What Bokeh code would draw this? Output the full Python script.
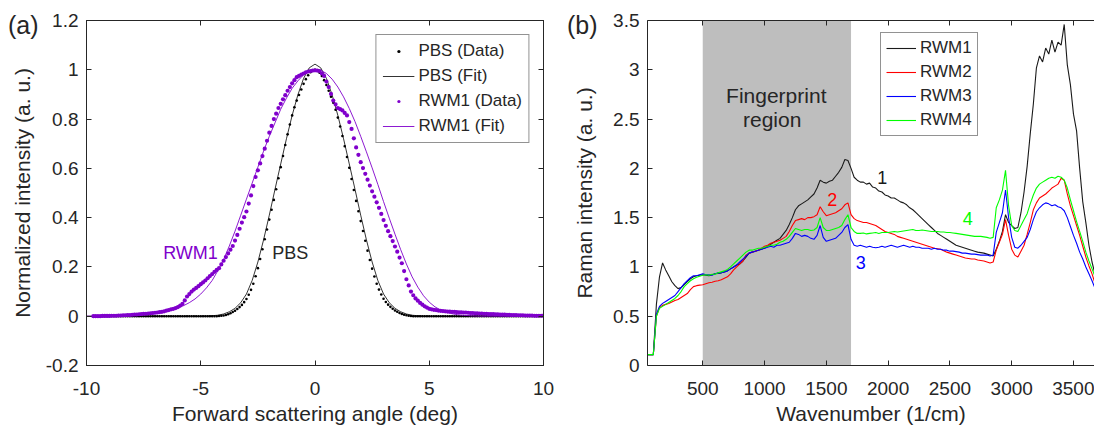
from bokeh.plotting import figure
from bokeh.models import Range1d, LinearAxis, FixedTicker, Legend, LegendItem, BoxAnnotation, Div
from bokeh.layouts import row, column
from bokeh.embed import file_html
from bokeh.resources import INLINE
from bokeh.core.properties import value

FONT = "Liberation Sans"
INK = "#262626"
PURPLE = "#8000cc"

# ---------------- panel (a) data ----------------
# sampling grid of the measured angles (deg), 0.1 deg steps
angle_data = [round(-9.7 + 0.1 * i, 1) for i in range(198)]
# sampling grid of the fitted curves (deg), 0.25 deg steps
angle_fit = [-10 + 0.25 * i for i in range(81)]

pbs_data = (
    [0.0] * 54 +
    [0.000, 0.001, 0.002, 0.003, 0.005, 0.008, 0.012, 0.017, 0.022, 0.029,
     0.037, 0.046, 0.057, 0.070, 0.087, 0.107, 0.132, 0.162, 0.195, 0.232,
     0.272, 0.312, 0.352, 0.392, 0.432, 0.472, 0.515, 0.560, 0.605, 0.650,
     0.695, 0.738, 0.778, 0.815, 0.848, 0.875, 0.898, 0.920, 0.943, 0.962,
     0.978, 0.990, 0.998] +
    [1.000] +
    [0.997, 0.988, 0.975, 0.958, 0.938, 0.915, 0.891, 0.866, 0.838, 0.806,
     0.770, 0.731, 0.690, 0.646, 0.602, 0.557, 0.512, 0.468, 0.426, 0.386,
     0.346, 0.306, 0.266, 0.228, 0.193, 0.161, 0.132, 0.108, 0.088, 0.071,
     0.058, 0.047, 0.038, 0.030, 0.023, 0.018, 0.013, 0.009, 0.006, 0.004,
     0.002, 0.001, 0.000] +
    [0.0] * 57
)

rwm1_data = [
    0.000, 0.000, 0.000, 0.000, 0.001, 0.001, 0.001, 0.001, 0.002, 0.002,
    0.002, 0.003, 0.003, 0.004, 0.004, 0.005, 0.005, 0.006, 0.007, 0.007,
    0.008, 0.009, 0.010, 0.010, 0.011, 0.012, 0.013, 0.014, 0.015, 0.017,
    0.018, 0.020, 0.023, 0.025, 0.028, 0.030, 0.033, 0.037, 0.043, 0.050,
    0.064, 0.080, 0.090, 0.100, 0.108, 0.115, 0.122, 0.130, 0.137, 0.145,
    0.154, 0.163, 0.171, 0.180, 0.188, 0.195, 0.210, 0.225, 0.240, 0.255,
    0.270, 0.285, 0.307, 0.330, 0.355, 0.380, 0.402, 0.425, 0.457, 0.490,
    0.528, 0.565, 0.592, 0.620, 0.650, 0.680, 0.712, 0.745, 0.772, 0.800,
    0.822, 0.845, 0.862, 0.880, 0.897, 0.915, 0.930, 0.945, 0.958, 0.970,
    0.975, 0.980, 0.985, 0.990, 0.993, 0.995, 0.997,
    0.998,
    0.997, 0.995, 0.985, 0.975, 0.952, 0.930, 0.902, 0.875, 0.860, 0.845,
    0.840, 0.835, 0.825, 0.815, 0.788, 0.760, 0.722, 0.685, 0.655, 0.625,
    0.601, 0.578, 0.554, 0.530, 0.507, 0.485, 0.462, 0.440, 0.415, 0.390,
    0.367, 0.345, 0.325, 0.305, 0.283, 0.262, 0.238, 0.215, 0.183, 0.150,
    0.125, 0.100, 0.085, 0.072, 0.063, 0.054, 0.047, 0.040, 0.035, 0.030,
    0.028, 0.026, 0.025, 0.023, 0.022, 0.021, 0.020, 0.019, 0.019, 0.018,
    0.018, 0.017, 0.016, 0.016, 0.015, 0.015, 0.014, 0.013, 0.013, 0.012,
    0.012, 0.011, 0.011, 0.010, 0.010, 0.009, 0.009, 0.009, 0.008, 0.008,
    0.007, 0.007, 0.007, 0.006, 0.006, 0.005, 0.005, 0.005, 0.004, 0.004,
    0.004, 0.003, 0.003, 0.003, 0.003, 0.002, 0.002, 0.002, 0.002, 0.002,
]

pbs_fit = (
    [0.0] * 20 +
    [0.000, 0.001, 0.002, 0.004, 0.009, 0.018, 0.032, 0.055, 0.090, 0.145,
     0.220, 0.310, 0.410, 0.515, 0.618, 0.720, 0.815, 0.898, 0.965, 1.008] +
    [1.023] +
    [1.008, 0.965, 0.898, 0.815, 0.720, 0.618, 0.515, 0.410, 0.310, 0.220,
     0.145, 0.090, 0.055, 0.032, 0.018, 0.009, 0.004, 0.002, 0.001, 0.000] +
    [0.0] * 20
)

rwm1_fit = [
    0.000, 0.000, 0.000, 0.000, 0.000, 0.001, 0.001, 0.002, 0.003, 0.004,
    0.006, 0.008, 0.011, 0.015, 0.020, 0.026, 0.033, 0.043, 0.055, 0.070,
    0.090, 0.115, 0.145, 0.185, 0.230, 0.285, 0.345, 0.410, 0.475, 0.540,
    0.605, 0.670, 0.730, 0.785, 0.840, 0.885, 0.925, 0.955, 0.980, 0.995,
    1.000,
    0.998, 0.985, 0.962, 0.930, 0.890, 0.843, 0.790, 0.730, 0.667, 0.602,
    0.535, 0.465, 0.398, 0.333, 0.270, 0.212, 0.160, 0.118, 0.083, 0.057,
    0.038, 0.025, 0.016, 0.010, 0.006, 0.004, 0.002, 0.001, 0.000, 0.000,
    0.000, 0.000, 0.000, 0.000, 0.000, 0.000, 0.000, 0.000, 0.000, 0.000,
]

a_xticks = [-10, -5, 0, 5, 10]
a_xtick_labels = ["-10", "-5", "0", "5", "10"]
a_yticks = [-0.2, 0, 0.2, 0.4, 0.6, 0.8, 1, 1.2]
a_ytick_labels = ["-0.2", "0", "0.2", "0.4", "0.6", "0.8", "1", "1.2"]

# ---------------- panel (b) data ----------------
wavenumber = list(range(50, 3676, 25))

rwm1 = [
    0.11, 0.11, 0.11, 0.62, 0.90, 1.04, 0.97, 0.91, 0.85, 0.81,
    0.78, 0.79, 0.82, 0.85, 0.88, 0.90, 0.91, 0.915, 0.92, 0.915,
    0.91, 0.92, 0.93, 0.935, 0.94, 0.95, 0.96, 0.98, 1.00, 1.02,
    1.03, 1.06, 1.10, 1.14, 1.15, 1.16, 1.17, 1.18, 1.19, 1.21,
    1.23, 1.25, 1.27, 1.29, 1.33, 1.37, 1.43, 1.50, 1.58, 1.62,
    1.64, 1.66, 1.68, 1.71, 1.74, 1.80, 1.88, 1.86, 1.85, 1.87,
    1.88, 1.92, 1.96, 2.01, 2.09, 2.08, 2.00, 1.91, 1.88, 1.86,
    1.86, 1.84, 1.85, 1.81, 1.80, 1.77, 1.76, 1.73, 1.72, 1.70,
    1.70, 1.68, 1.66, 1.65, 1.63, 1.60, 1.58, 1.55, 1.52, 1.49,
    1.46, 1.43, 1.40, 1.37, 1.34, 1.32, 1.30, 1.28, 1.26, 1.24,
    1.22, 1.21, 1.20, 1.19, 1.18, 1.17, 1.16, 1.15, 1.145, 1.14,
    1.13, 1.12, 1.11, 1.18, 1.26, 1.36, 1.53, 1.45, 1.42, 1.39,
    1.40, 1.55, 1.76, 2.02, 2.35, 2.65, 3.02, 3.14, 3.08, 3.22,
    3.16, 3.30, 3.18, 3.28, 3.25, 3.46, 3.05, 2.85, 2.55, 2.38,
    2.00, 1.66, 1.45, 1.22, 1.05, 0.92,
]
rwm2 = [
    0.11, 0.11, 0.11, 0.50, 0.59, 0.61, 0.62, 0.63, 0.645, 0.66,
    0.67, 0.69, 0.71, 0.73, 0.77, 0.80, 0.81, 0.815, 0.82, 0.83,
    0.84, 0.845, 0.855, 0.86, 0.87, 0.885, 0.90, 0.93, 0.97, 1.00,
    1.03, 1.06, 1.12, 1.14, 1.15, 1.16, 1.17, 1.19, 1.21, 1.22,
    1.24, 1.25, 1.26, 1.27, 1.29, 1.31, 1.36, 1.42, 1.47, 1.48,
    1.49, 1.48, 1.50, 1.50, 1.51, 1.53, 1.61, 1.56, 1.52, 1.53,
    1.54, 1.55, 1.57, 1.59, 1.63, 1.65, 1.53, 1.49, 1.47, 1.46,
    1.45, 1.45, 1.44, 1.43, 1.42, 1.40, 1.38, 1.36, 1.35, 1.34,
    1.33, 1.31, 1.30, 1.29, 1.28, 1.27, 1.26, 1.25, 1.24, 1.23,
    1.22, 1.21, 1.20, 1.19, 1.185, 1.18, 1.165, 1.15, 1.14, 1.13,
    1.12, 1.11, 1.10, 1.09, 1.085, 1.08, 1.08, 1.07, 1.065, 1.06,
    1.05, 1.04, 1.05, 1.17, 1.25, 1.33, 1.48, 1.32, 1.18, 1.12,
    1.10, 1.16, 1.22, 1.33, 1.45, 1.58, 1.65, 1.70, 1.72, 1.74,
    1.77, 1.80, 1.82, 1.84, 1.90, 1.88, 1.74, 1.62, 1.52, 1.42,
    1.32, 1.21, 1.10, 1.01, 0.93, 0.83,
]
rwm3 = [
    0.11, 0.11, 0.11, 0.52, 0.60, 0.63, 0.65, 0.67, 0.69, 0.71,
    0.75, 0.79, 0.83, 0.86, 0.89, 0.91, 0.91, 0.92, 0.93, 0.92,
    0.92, 0.915, 0.93, 0.94, 0.94, 0.95, 0.96, 0.98, 1.00, 1.02,
    1.05, 1.08, 1.11, 1.14, 1.15, 1.16, 1.17, 1.18, 1.19, 1.20,
    1.21, 1.20, 1.22, 1.22, 1.23, 1.24, 1.25, 1.29, 1.34, 1.33,
    1.31, 1.32, 1.31, 1.29, 1.28, 1.32, 1.42, 1.30, 1.26, 1.27,
    1.28, 1.29, 1.32, 1.35, 1.40, 1.43, 1.28, 1.22, 1.21, 1.22,
    1.21, 1.20, 1.21, 1.20, 1.195, 1.20, 1.21, 1.20, 1.21, 1.22,
    1.21, 1.20, 1.21, 1.22, 1.21, 1.20, 1.21, 1.20, 1.20, 1.19,
    1.19, 1.19, 1.18, 1.19, 1.18, 1.18, 1.17, 1.17, 1.16, 1.16,
    1.155, 1.15, 1.14, 1.14, 1.135, 1.13, 1.13, 1.125, 1.12, 1.12,
    1.12, 1.11, 1.12, 1.35, 1.45, 1.55, 1.78, 1.50, 1.30, 1.20,
    1.19, 1.22, 1.26, 1.30, 1.38, 1.48, 1.56, 1.60, 1.63, 1.65,
    1.64, 1.62, 1.63, 1.61, 1.60, 1.57, 1.50, 1.41, 1.32, 1.24,
    1.15, 1.08, 1.00, 0.93, 0.86, 0.78,
]
rwm4 = [
    0.11, 0.11, 0.11, 0.50, 0.58, 0.60, 0.62, 0.64, 0.66, 0.68,
    0.71, 0.75, 0.80, 0.83, 0.86, 0.88, 0.895, 0.905, 0.915, 0.92,
    0.915, 0.925, 0.925, 0.94, 0.95, 0.96, 0.975, 1.00, 1.03, 1.06,
    1.09, 1.12, 1.15, 1.17, 1.17, 1.18, 1.19, 1.19, 1.20, 1.21,
    1.22, 1.22, 1.23, 1.25, 1.26, 1.28, 1.31, 1.35, 1.39, 1.38,
    1.37, 1.38, 1.38, 1.37, 1.375, 1.40, 1.50, 1.40, 1.37, 1.37,
    1.38, 1.39, 1.40, 1.42, 1.48, 1.53, 1.40, 1.36, 1.34, 1.34,
    1.345, 1.335, 1.34, 1.345, 1.35, 1.34, 1.35, 1.35, 1.35, 1.355,
    1.36, 1.355, 1.36, 1.365, 1.37, 1.375, 1.38, 1.37, 1.37, 1.375,
    1.37, 1.365, 1.36, 1.36, 1.36, 1.355, 1.355, 1.35, 1.35, 1.345,
    1.34, 1.335, 1.33, 1.325, 1.32, 1.315, 1.31, 1.31, 1.31, 1.305,
    1.30, 1.29, 1.30, 1.60, 1.68, 1.78, 1.98, 1.62, 1.42, 1.37,
    1.36, 1.42, 1.48, 1.54, 1.64, 1.73, 1.80, 1.84, 1.86, 1.88,
    1.90, 1.91, 1.90, 1.92, 1.91, 1.88, 1.80, 1.68, 1.57, 1.46,
    1.36, 1.26, 1.15, 1.06, 0.98, 0.90,
]
series_names = ["RWM1", "RWM2", "RWM3", "RWM4"]
series_colors = ["#1a1a1a", "#ff0000", "#0000ff", "#00ff00"]
curve_tags = ["1", "2", "3", "4"]
tag_x = [1953, 1549, 1778, 2645]
tag_y = [1.91, 1.68, 1.05, 1.49]

fingerprint_start, fingerprint_end = 500, 1700
b_xticks = [500, 1000, 1500, 2000, 2500, 3000, 3500]
b_yticks = [0, 0.5, 1, 1.5, 2, 2.5, 3, 3.5]
b_ytick_labels = ["0", "0.5", "1", "1.5", "2", "2.5", "3", "3.5"]

panel_tags = ["(a)", "(b)"]


def style_axis(ax, ticks, labels=None, show=True):
    ax.ticker = FixedTicker(ticks=ticks)
    ax.axis_line_color = INK
    ax.axis_line_width = 1
    ax.major_tick_line_color = INK
    ax.major_tick_in = 5
    ax.major_tick_out = 0
    ax.minor_tick_line_color = None
    ax.major_label_text_font = FONT
    ax.major_label_text_color = INK
    ax.axis_label_text_font = FONT
    ax.axis_label_text_font_size = "21px"
    ax.axis_label_text_font_style = "normal"
    ax.axis_label_text_color = INK
    if labels is not None:
        ax.major_label_overrides = dict(zip(ticks, labels))
    if show:
        ax.major_label_text_font_size = "19px"
    else:
        ax.major_label_text_font_size = "0px"
        ax.major_label_text_color = None
        ax.major_label_standoff = 0


def base_fig(width, xr, yr, left, right):
    p = figure(width=width, height=427, x_range=xr, y_range=yr,
               output_backend="svg", toolbar_location=None,
               min_border_left=left, min_border_right=right,
               min_border_top=20, min_border_bottom=10)
    p.xgrid.visible = False
    p.ygrid.visible = False
    p.background_fill_color = "white"
    p.border_fill_color = "white"
    return p


def style_legend(lg, glyph_w, glyph_h):
    lg.padding = 6
    lg.spacing = 5
    lg.glyph_width = glyph_w
    lg.glyph_height = glyph_h
    lg.label_height = 18
    lg.label_standoff = 4
    lg.label_text_font = FONT
    lg.label_text_font_size = "17px"
    lg.label_text_color = INK
    lg.border_line_color = INK
    lg.border_line_width = 1
    lg.background_fill_color = "white"
    lg.background_fill_alpha = 1


# ---------------- panel (a) ----------------
p1 = base_fig(560, Range1d(-10, 10), Range1d(-0.2, 1.2), 86, 17)
p1.outline_line_color = INK
p1.outline_line_width = 1
style_axis(p1.xaxis[0], a_xticks, a_xtick_labels)
style_axis(p1.yaxis[0], a_yticks, a_ytick_labels)
p1.xaxis[0].axis_label = "Forward scattering angle (deg)"
p1.yaxis[0].axis_label = "Normalized intensity (a. u.)"
p1.xaxis[0].major_label_standoff = 16
p1.xaxis[0].axis_label_standoff = 4
p1.yaxis[0].major_label_standoff = 8
p1.yaxis[0].axis_label_standoff = 9
top1 = LinearAxis()
style_axis(top1, a_xticks, show=False)
p1.add_layout(top1, "above")
right1 = LinearAxis()
style_axis(right1, a_yticks, show=False)
p1.add_layout(right1, "right")

r1 = p1.scatter(angle_data, pbs_data, size=2.6, color="black", line_color=None)
r2 = p1.line(angle_fit, pbs_fit, color="black", line_width=0.8)
r3 = p1.scatter(angle_data, rwm1_data, size=4.2, color=PURPLE, line_color=None)
r4 = p1.line(angle_fit, rwm1_fit, color=PURPLE, line_width=0.9)

p1.text(x=[-5.45], y=[0.255], text=["RWM1"], text_font=value(FONT),
        text_font_size="18px", text_color=PURPLE, text_align="center",
        text_baseline="middle")
p1.text(x=[-1.08], y=[0.255], text=["PBS"], text_font=value(FONT),
        text_font_size="18px", text_color=INK, text_align="center",
        text_baseline="middle")

leg1 = Legend(items=[
    LegendItem(label="PBS (Data)", renderers=[r1]),
    LegendItem(label="PBS (Fit)", renderers=[r2]),
    LegendItem(label="RWM1 (Data)", renderers=[r3]),
    LegendItem(label="RWM1 (Fit)", renderers=[r4]),
], location="top_right")
style_legend(leg1, 32, 8)
leg1.margin = 14
p1.add_layout(leg1)

# ---------------- panel (b) ----------------
p2 = base_fig(534, Range1d(53, 3670), Range1d(0, 3.5), 87, 0)
p2.outline_line_color = None
style_axis(p2.xaxis[0], b_xticks)
style_axis(p2.yaxis[0], b_yticks, b_ytick_labels)
p2.xaxis[0].axis_label = "Wavenumber (1/cm)"
p2.yaxis[0].axis_label = "Raman intensity (a. u.)"
p2.xaxis[0].major_label_standoff = 16
p2.xaxis[0].axis_label_standoff = 4
p2.yaxis[0].major_label_standoff = 8
p2.yaxis[0].axis_label_standoff = 14
top2 = LinearAxis()
style_axis(top2, b_xticks, show=False)
p2.add_layout(top2, "above")

p2.add_layout(BoxAnnotation(left=fingerprint_start, right=fingerprint_end,
                            fill_color="#bebebe", fill_alpha=1.0,
                            line_color=None, level="underlay"))
p2.text(x=[1095], y=[2.74], text=["Fingerprint"], text_font=value(FONT),
        text_font_size="21px", text_color=INK, text_align="center",
        text_baseline="middle")
p2.text(x=[1062], y=[2.50], text=["region"], text_font=value(FONT),
        text_font_size="21px", text_color=INK, text_align="center",
        text_baseline="middle")

rends = []
for ys, c in zip([rwm1, rwm2, rwm3, rwm4], series_colors):
    rends.append(p2.line(wavenumber, ys, color=c, line_width=1.1))

for t, tx, ty, c in zip(curve_tags, tag_x, tag_y, series_colors):
    p2.text(x=[tx], y=[ty], text=[t], text_font=value(FONT),
            text_font_size="18px", text_color=c, text_align="center",
            text_baseline="middle")

leg2 = Legend(items=[LegendItem(label=n, renderers=[r])
                     for n, r in zip(series_names, rends)],
              location=(233, 229))
style_legend(leg2, 30, 18)
leg2.padding = 5
leg2.spacing = 4
p2.add_layout(leg2)

# panel tags "(a)" / "(b)" sit in the figures' outer corners
tag_html = (
    '<span style="position:absolute; left:8px; top:10px;">%s</span>'
    '<span style="position:absolute; left:567px; top:10px;">%s</span>'
) % tuple(panel_tags)
tags = Div(text=tag_html, width=1094, height=40, margin=(0, 0, 0, 0),
           styles={"position": "absolute", "left": "0px", "top": "0px",
                   "font-family": FONT, "font-size": "25px",
                   "color": INK, "line-height": "30px",
                   "pointer-events": "none"})

layout = column(row(p1, p2), tags)
open("out.html", "w").write(file_html(layout, INLINE))
